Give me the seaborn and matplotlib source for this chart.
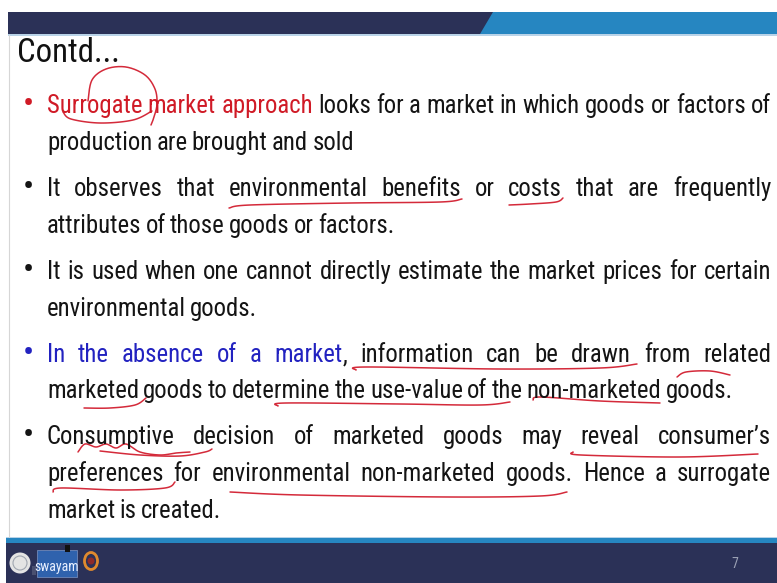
import matplotlib
matplotlib.use("Agg")
import numpy as np
import matplotlib.pyplot as plt
import seaborn as sns
from matplotlib import font_manager as fm
from matplotlib.patches import Polygon, Rectangle, Circle, Ellipse

sns.set_theme(style="white")

# ---------------- content ----------------
TITLE = "Contd..."
PAGE = "7"
BLACK, RED, BLUE = "#141414", "#d01a26", "#2222c0"

# each line: (has_bullet, justified, [(text, colour), ...])
LINES = [
    (True, True, [("Surrogate market approach", RED),
                  (" looks for a market in which goods or factors of", BLACK)]),
    (False, False, [("production are brought and sold", BLACK)]),
    (True, True, [("It observes that environmental benefits or costs that are frequently", BLACK)]),
    (False, False, [("attributes of those goods or factors.", BLACK)]),
    (True, True, [("It is used when one cannot directly estimate the market prices for certain", BLACK)]),
    (False, False, [("environmental goods.", BLACK)]),
    (True, True, [("In the absence of a market", BLUE),
                  (", information can be drawn from related", BLACK)]),
    (False, False, [("marketed goods to determine the use-value of the non-marketed goods.", BLACK)]),
    (True, True, [("Consumptive decision of marketed goods may reveal consumer\u2019s", BLACK)]),
    (False, True, [("preferences for environmental non-marketed goods. Hence a surrogate", BLACK)]),
    (False, False, [("market is created.", BLACK)]),
]
BASELINES = [113, 150, 196, 233, 279, 316, 362, 398, 444, 481, 518]

# ---------------- font ----------------
names = {f.name for f in fm.fontManager.ttflist}
FONT = "DejaVu Sans"
for cand in ["Liberation Sans Narrow", "Roboto Condensed", "Open Sans Condensed",
             "Noto Sans Condensed", "Lato", "Liberation Sans"]:
    if cand in names:
        FONT = cand
        break
plt.rcParams["font.family"] = [FONT, "DejaVu Sans"]

W, H = 777, 583
fig = plt.figure(figsize=(W / 100, H / 100), dpi=100)
fig.patch.set_facecolor("white")
ax = fig.add_axes([0, 0, 1, 1])
ax.set_xlim(0, W)
ax.set_ylim(H, 0)
ax.axis("off")
renderer = fig.canvas.get_renderer()


def text_width(s, size):
    t = ax.text(0, 0, s, fontsize=size)
    w = t.get_window_extent(renderer).width
    t.remove()
    return w


# fit body size so that an unjustified line has the reference width
REF = 20.0
body = REF * 312.0 / text_width("production are brought and sold", REF)
title_size = 1.12 * REF * 92.0 / text_width(TITLE, REF)
space_w = 0.75 * (text_width("x x", body) - text_width("xx", body))

# ---------------- frame ----------------
NAVY = "#2b3157"
LBLUE = "#2686c1"
ax.add_patch(Rectangle((480, 12), W - 480, 22, color=LBLUE, lw=0))
ax.add_patch(Polygon([(8, 12), (493, 12), (480, 34), (8, 34)], closed=True, color=NAVY, lw=0))
ax.add_patch(Rectangle((8, 34), W - 8, 1.5, color="#b9d3e8", lw=0))
ax.plot([8.5, 8.5], [35, 537], color="#d6d6d6", lw=0.8)
ax.add_patch(Rectangle((6, 537), W - 6, 1.2, color="#b9d3e8", lw=0))
ax.add_patch(Rectangle((6, 538), W - 6, 5, color=LBLUE, lw=0))
ax.add_patch(Rectangle((6, 543), W - 6, H - 543, color=NAVY, lw=0))

# logos
ax.add_patch(Circle((20, 563), 10.5, color="#e4e4e4", lw=0))
ax.add_patch(Circle((20, 563), 7, fill=False, ec="#a0a6b0", lw=0.8))
ax.add_patch(Rectangle((32, 566), 4, 9, color="#4a5070", lw=0))
ax.add_patch(Rectangle((37, 550), 40, 27, color="#2f62ad", lw=0.6, ec="#6f88b8"))
ax.text(57, 571, "swayam", fontsize=10, color="#e8f0ff", ha="center", va="baseline")
ax.add_patch(Rectangle((65, 545), 5, 7, color="#111111", lw=0))
ax.add_patch(Ellipse((91, 561), 13, 17, fill=False, ec="#e08a2e", lw=2))
ax.add_patch(Circle((91, 561), 3.5, color="#8e2a2a", lw=0))
ax.text(735, 568, PAGE, fontsize=10, color="#9ba1b5", ha="center", va="baseline")

# ---------------- text ----------------
ax.text(17, 62, TITLE, fontsize=title_size, color="#111111", va="baseline", ha="left")

L, R = 47.0, 771.0
for (bullet, justify, segs), base in zip(LINES, BASELINES):
    words, new_word = [], True
    for txt, col in segs:
        for i, part in enumerate(txt.split(" ")):
            if i > 0:
                new_word = True
            if part == "":
                continue
            if new_word:
                words.append([])
                new_word = False
            words[-1].append((part, col))
    widths = [[text_width(p, body) for p, _ in w] for w in words]
    total = sum(sum(w) for w in widths)
    gap = (R - L - total) / (len(words) - 1) if justify and len(words) > 1 else space_w
    if bullet:
        ax.text(28, base + 1, "\u2022", fontsize=body * 1.35, color=segs[0][1],
                ha="center", va="baseline")
    x = L
    for w, ws in zip(words, widths):
        for (p, col), pw in zip(w, ws):
            ax.text(x, base, p, fontsize=body, color=col, ha="left", va="baseline")
            x += pw
        x += gap

# ---------------- hand-drawn red ink ----------------
INK = "#d42a3a"


def smooth(pts, n=20):
    pts = np.asarray(pts, float)
    p = np.vstack([pts[0], pts, pts[-1]])
    out = []
    for i in range(1, len(p) - 2):
        p0, p1, p2, p3 = p[i - 1], p[i], p[i + 1], p[i + 2]
        t = np.linspace(0, 1, n)[:, None]
        out.append(0.5 * ((2 * p1) + (-p0 + p2) * t + (2 * p0 - 5 * p1 + 4 * p2 - p3) * t ** 2
                          + (-p0 + 3 * p1 - 3 * p2 + p3) * t ** 3))
    return np.vstack(out)


STROKES = [
    [(88, 101), (92, 80), (106, 69), (126, 67), (145, 75), (155, 89), (157, 104), (154, 117), (151, 125)],
    [(63, 112), (71, 119), (100, 123), (133, 120), (152, 111)],
    [(229, 208), (250, 205), (350, 203), (440, 202), (462, 199)],
    [(509, 205), (530, 204), (556, 202), (563, 198)],
    [(356, 370), (366, 367), (500, 369), (600, 368), (637, 364)],
    [(677, 377), (686, 372), (710, 371), (730, 375)],
    [(84, 408), (110, 408), (135, 405), (146, 398)],
    [(278, 406), (286, 403), (400, 404), (480, 405), (510, 402)],
    [(533, 400), (541, 397), (600, 401), (660, 403)],
    [(78, 452), (85, 444), (96, 447), (106, 444), (116, 448), (126, 444), (140, 452), (160, 455),
     (176, 453), (190, 452)],
    [(100, 451), (140, 455), (180, 456), (205, 452), (212, 449)],
    [(573, 452), (581, 455), (680, 457), (758, 454)],
    [(53, 492), (61, 488), (120, 490), (165, 488), (175, 482)],
    [(230, 492), (300, 495), (450, 497), (540, 496), (567, 492)],
]
for s in STROKES:
    c = smooth(s)
    ax.plot(c[:, 0], c[:, 1], color=INK, lw=1.1, solid_capstyle="round")

fig.savefig("out.png", dpi=100)
